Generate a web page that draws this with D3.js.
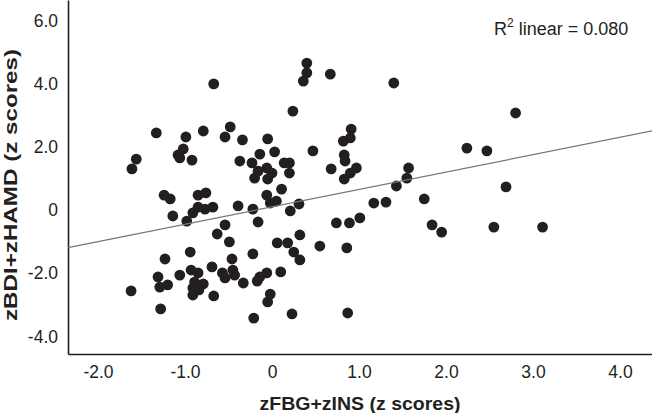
<!DOCTYPE html>
<html>
<head>
<meta charset="utf-8">
<script src="https://cdn.jsdelivr.net/npm/d3@7"></script>
<style>
  body { margin: 0; background: #fff; }
  text { font-family: "Liberation Sans", Arial, sans-serif; fill: #231f20; }
</style>
</head>
<body>
<div id="chart"></div>
<script>
// values
const zFbgIns = [
  -0.67, -1.33, -0.79, -0.99, -1.02, -1.08, -1.06, -0.92, -1.56, -1.61,
  -0.48, -0.54, -0.34, -0.05, -0.37, -0.23, -0.14, -0.16, -0.20, -0.06,
  0.00, -0.05, 0.03, 0.14, 0.20, 0.20, 0.40, 0.40, 0.36, 0.67,
  1.40, 0.24, 0.91, 0.82, 0.90, 0.47, 0.83, 0.84, 0.68, 0.97,
  0.90, 0.83, 1.57, 1.55, 1.43, 1.75, 0.11, -0.06, 0.05, -0.02,
  0.31, 0.21, 1.17, 1.31, 0.74, 0.89, 1.01, 2.80, 2.24, 2.47,
  2.69, 1.84, 1.95, 2.55, 3.11, -1.24, -1.17, -0.85, -0.76, -0.85,
  -0.77, -0.68, -0.39, -0.22, -1.14, -0.98, -0.91, -0.16, -0.54, -0.63,
  -0.49, -0.94, -1.23, -0.22, -0.46, -0.69, -0.93, -1.06, -1.31, -1.29,
  -1.20, -0.85, -0.89, -0.79, -0.91, -0.84, -0.91, -0.57, -0.54, -0.45,
  -0.43, -0.33, -0.67, -0.17, -0.06, -0.14, -0.05, -0.02, -1.62, -1.28,
  -0.21, 0.23, 0.87, 0.06, 0.18, 0.25, 0.32, 0.32, 0.55, 0.86, 0.10
];
const zBdiHamd = [
  3.99, 2.44, 2.50, 2.31, 1.93, 1.74, 1.65, 1.58, 1.61, 1.30,
  2.63, 2.31, 2.22, 2.25, 1.55, 1.49, 1.77, 1.23, 1.01, 1.33,
  1.17, 0.98, 1.84, 1.49, 1.49, 1.17, 4.65, 4.34, 4.08, 4.30,
  4.02, 3.13, 2.56, 2.18, 2.28, 1.87, 1.74, 1.55, 1.30, 1.33,
  1.17, 0.98, 1.33, 1.01, 0.76, 0.35, 0.66, 0.47, 0.28, 0.22,
  0.19, -0.03, 0.22, 0.25, -0.41, -0.41, -0.25, 3.07, 1.96, 1.87,
  0.73, -0.47, -0.70, -0.54, -0.54, 0.47, 0.35, 0.47, 0.54, 0.09,
  0.03, 0.09, 0.13, 0.03, -0.19, -0.35, -0.09, -0.38, -0.47, -0.76,
  -1.01, -1.33, -1.55, -1.39, -1.55, -1.80, -1.90, -2.06, -2.12, -2.44,
  -2.37, -1.99, -2.28, -2.34, -2.47, -2.53, -2.69, -1.99, -2.15, -1.90,
  -2.06, -2.31, -2.72, -2.25, -1.99, -2.12, -2.91, -2.66, -2.56, -3.13,
  -3.42, -3.29, -3.26, -1.04, -1.04, -1.33, -1.58, -0.79, -1.14, -1.20, -1.96
];
const xTicks = [-2, -1, 0, 1, 2, 3, 4];
const yTicks = [-4, -2, 0, 2, 4, 6];
// fit line shown in the chart
const fitIntercept = 0.10;
const fitSlope = 0.55;
const rSquared = "0.080";

const W = 652, H = 413;
const margin = { top: 0, right: 0, bottom: 59, left: 68 };

const svg = d3.select("#chart").append("svg")
  .attr("width", W)
  .attr("height", H);

const x = d3.scaleLinear()
  .domain([-2.345, 4.368])
  .range([margin.left, W - margin.right]);
const y = d3.scaleLinear()
  .domain([-4.557, 6.646])
  .range([H - margin.bottom, margin.top]);

// plain hyphen for negatives, "0" for zero
const fmt = (d) => (d === 0 ? "0" : d.toFixed(1));

// axes
svg.append("g")
  .attr("transform", `translate(0,${H - margin.bottom})`)
  .call(d3.axisBottom(x).tickValues(xTicks).tickFormat(fmt).tickSize(0).tickPadding(12))
  .call((g) => g.select(".domain").attr("stroke", "#231f20").attr("stroke-width", 1.6))
  .call((g) => g.selectAll(".tick text")
    .style("font-size", "17.5px")
    .style("font-family", "Liberation Sans, Arial, sans-serif")
    .attr("fill", "#231f20"));

svg.append("g")
  .attr("transform", `translate(${margin.left},0)`)
  .call(d3.axisLeft(y).tickValues(yTicks).tickFormat(fmt).tickSize(0).tickPadding(10))
  .call((g) => g.select(".domain").attr("stroke", "#231f20").attr("stroke-width", 1.6))
  .call((g) => g.selectAll(".tick text")
    .style("font-size", "17.5px")
    .style("font-family", "Liberation Sans, Arial, sans-serif")
    .attr("fill", "#231f20"));

// points
const pts = zFbgIns.map((d, i) => ({ x: d, y: zBdiHamd[i] }));
svg.append("g")
  .selectAll("circle")
  .data(pts)
  .join("circle")
  .attr("cx", (d) => x(d.x))
  .attr("cy", (d) => y(d.y))
  .attr("r", 5.4)
  .attr("fill", "#231f20");

// fit line
const xs = x.domain();
svg.append("line")
  .attr("x1", x(xs[0]))
  .attr("y1", y(fitIntercept + fitSlope * xs[0]))
  .attr("x2", x(xs[1]))
  .attr("y2", y(fitIntercept + fitSlope * xs[1]))
  .attr("stroke", "#777")
  .attr("stroke-width", 1.3);

// R2 label
const r2 = svg.append("text")
  .attr("x", 494)
  .attr("y", 35)
  .style("font-size", "18px");
r2.append("tspan").text("R");
r2.append("tspan").attr("dy", -8).style("font-size", "12px").text("2");
r2.append("tspan").attr("dy", 8).text(" linear = " + rSquared);

// axis titles
svg.append("text")
  .attr("x", 360)
  .attr("y", 410)
  .attr("text-anchor", "middle")
  .attr("textLength", 201)
  .attr("lengthAdjust", "spacingAndGlyphs")
  .style("font-size", "18px")
  .style("font-weight", "bold")
  .text("zFBG+zINS (z scores)");

svg.append("text")
  .attr("transform", "translate(17,185) rotate(-90)")
  .attr("text-anchor", "middle")
  .attr("textLength", 272)
  .attr("lengthAdjust", "spacingAndGlyphs")
  .style("font-size", "18px")
  .style("font-weight", "bold")
  .text("zBDI+zHAMD (z scores)");
</script>
</body>
</html>
